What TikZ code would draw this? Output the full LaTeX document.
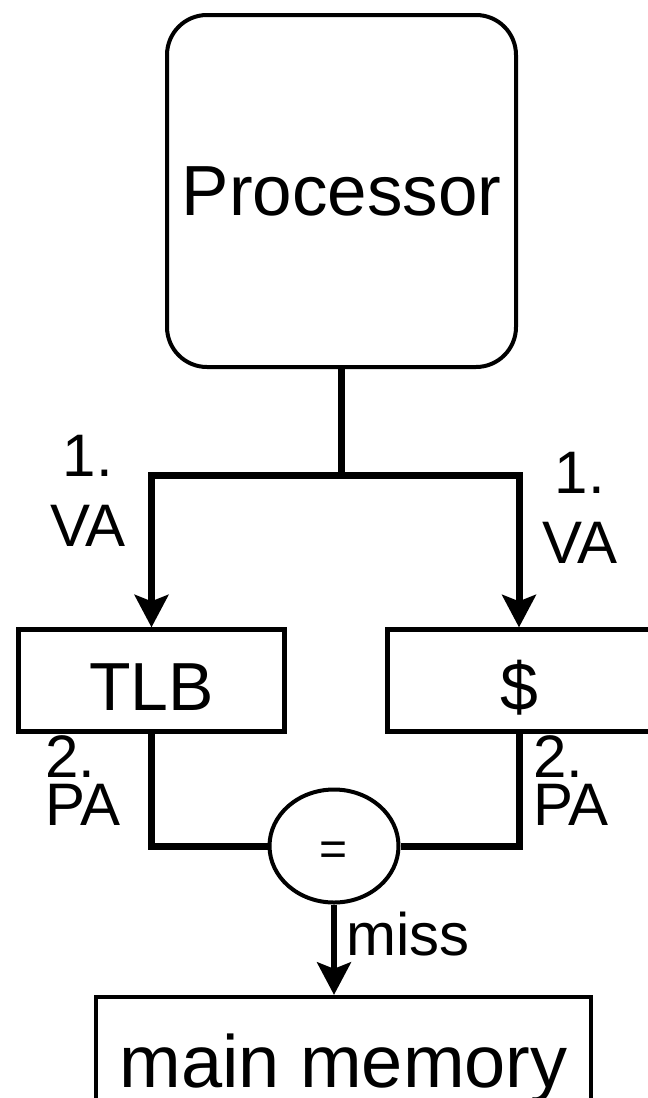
\documentclass[tikz,border=0pt]{standalone}
\usepackage{fontspec}
\setmainfont{Liberation Sans}
\usetikzlibrary{shapes.geometric, arrows.meta}

\begin{document}
\begin{tikzpicture}[
  x=1pt, y=-1pt,
  unit/.style={draw, line width=4.5pt, minimum width=266pt, minimum height=102pt, inner sep=0pt, text height=59pt, text depth=0pt, font=\fontsize{68}{80}\selectfont},
  bus/.style={line width=7pt},
  tip/.style={-{Stealth[length=33pt, width=35pt, inset=7pt, line width=0pt]}},
  lbl/.style={inner sep=0pt, font=\fontsize{60}{70}\selectfont}
]
  \useasboundingbox (0,0) rectangle (648,1098);
  \clip (0,0) rectangle (648,1098);

  \node[draw, rounded corners=40pt, line width=4pt, minimum width=349pt, minimum height=352pt, font=\fontsize{71}{80}\selectfont] (proc) at (341.5, 191) {Processor};
  \node[unit] (tlb) at (151.5, 680.5) {TLB};
  \node[unit, minimum width=263pt] (cache) at (519, 680.5) {\$};
  \node[draw, ellipse, line width=4pt, minimum width=129pt, minimum height=113pt, inner sep=0pt, text height=38pt, text depth=0pt, font=\fontsize{48}{50}\selectfont] (eq) at (334, 846) {=};
  \node[draw, line width=4.5pt, minimum width=495pt, minimum height=126pt, text height=54pt, text depth=0pt, font=\fontsize{74}{80}\selectfont] (mem) at (343.5, 1060) {main memory};

  \node[lbl, align=center, anchor=north] (va1) at (88, 435) {1.\\VA};
  \node[lbl, align=center, anchor=north] (va2) at (580, 452) {1.\\VA};
  \node[lbl, align=left, anchor=north west, font=\fontsize{60}{48}\selectfont] (pa1) at (45, 735) {2.\\PA};
  \node[lbl, align=left, anchor=north west, font=\fontsize{60}{48}\selectfont] (pa2) at (533, 735) {2.\\PA};
  \node[lbl, anchor=base west] (miss) at (346, 955) {miss};

  \coordinate (split) at (341.5, 475);
  \draw[bus] (proc) -- (split);
  \draw[bus, tip] (split) -| (tlb);
  \draw[bus, tip] (split) -| (cache);
  \draw[bus] (tlb) |- (eq);
  \draw[bus] (cache) |- (eq);
  \draw[line width=5.5pt, tip] (eq) -- (eq |- mem.north);
\end{tikzpicture}
\end{document}
